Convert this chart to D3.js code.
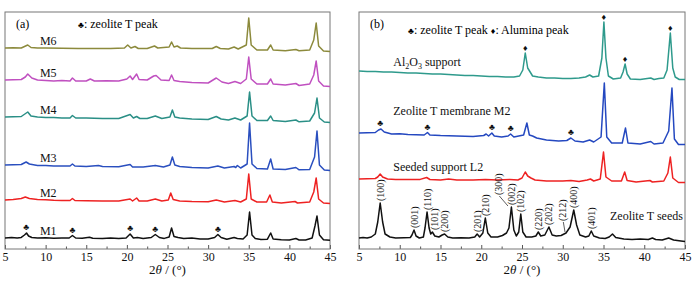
<!DOCTYPE html>
<html>
<head>
<meta charset="utf-8">
<script src="https://cdn.jsdelivr.net/npm/d3@7"></script>
<style>
  body { margin: 0; background: #fff; }
  text { font-family: "Liberation Serif", "Times New Roman", serif; }
</style>
</head>
<body>
<div id="chart"></div>
<script>
// ---- data: 2theta (deg) vs relative intensity ----
const ticks = [5, 10, 15, 20, 25, 30, 35, 40, 45];
const minorTicks = [7.5, 12.5, 17.5, 22.5, 27.5, 32.5, 37.5, 42.5];

// panel (a)
const namesA = ["M1", "M2", "M3", "M4", "M5", "M6"];
const colorsA = ["#111111", "#ee2222", "#2a4fbf", "#2a8f86", "#c050c0", "#8c8a3c"];
const offsetsA = [8, 45, 78, 126, 162, 197];

const m1 = [[5,3],[5.8,3.6],[6.5,3],[7,3.6],[7.4,6],[7.65,8],[7.9,5],[8.3,3.5],[9,3],[10,3.3],[11,2.8],[12,3.1],[12.9,3],[13.3,5.5],[13.7,3],[14.5,2.8],[15.4,3.8],[15.8,2.8],[17,2.6],[18,2.9],[19,2.5],[19.9,3],[20.4,7],[20.8,3],[21.3,3.4],[22,2.6],[23,3.5],[23.5,6.5],[24,3.5],[24.6,2.6],[25.2,4],[25.5,13],[25.8,4.5],[26.3,3.5],[27,2.4],[28,2.9],[29,2],[30,2.1],[30.8,3.5],[31.2,6.5],[31.6,3.5],[32.3,1.8],[33.2,3.5],[33.6,2.5],[34.3,2],[34.8,6],[35.1,29],[35.4,6],[35.8,2.5],[36.5,1.5],[37.3,1.8],[37.7,8],[38,2],[39,1.2],[40,1],[40.8,2.5],[41.2,1],[42,1],[42.8,3],[43.15,15],[43.4,25],[43.7,6],[44.2,1.2],[45,0.8]];
const m2 = [[5,4],[6,4.5],[7,5.5],[7.5,7],[8,5.5],[9,4.5],[10,4.2],[11,3.8],[12,3.6],[13,3.5],[13.3,5.5],[13.6,3.5],[15,3.3],[17,3.1],[19,3],[20.4,5],[20.7,3],[21.2,6],[21.5,3],[22.5,3],[23.5,5],[24.3,3],[25.1,4],[25.4,11],[25.7,4.5],[26.5,3],[28,2.5],[30,2.2],[31,4],[32,2],[33.3,3.5],[34,2],[34.7,5],[35,30],[35.3,5],[36,2],[37.2,2],[37.6,9],[37.9,2],[39,1],[40.7,2.5],[41,1],[42.5,2],[43,12],[43.3,26],[43.6,5],[44.2,1],[45,0.5]];
const m3 = [[5,6],[6,6.2],[7,6.5],[7.6,9],[8,7],[9,5.5],[10,5.6],[11,5],[12,5.1],[13,5],[13.3,7],[13.6,5],[15,4.5],[16.5,5.5],[17,4.5],[19,4.2],[20.4,6.5],[20.7,4],[22,4],[23.5,5.5],[24.5,4],[25.3,6],[25.6,14],[25.9,6],[26.5,4.5],[28,3.5],[30,3],[31.2,5],[32,3],[33.2,4.5],[33.4,3.5],[33.6,5.5],[34,3],[34.8,7],[35.1,48],[35.4,7],[36,2.5],[37.3,2],[37.7,12],[38,2],[39.5,1.5],[40.8,3.5],[41.2,1.2],[42.5,1.5],[43.1,14],[43.4,40],[43.7,6],[44.3,1],[45,0.5]];
const m4 = [[5,6],[6,6.2],[7,6.5],[7.8,11],[8.2,7],[9,6],[10,5.6],[11,5.5],[12,5.1],[13,5],[13.3,7.5],[13.7,5],[15,5],[17,4.6],[19,4.5],[20.4,8.5],[20.8,5],[21.2,6.5],[21.6,4.5],[22.5,4.5],[23.5,7],[24.3,4.5],[25.3,6],[25.6,13],[25.9,6],[26.5,5],[28,4],[30,3.5],[31,6.5],[31.6,4],[32.5,3],[33.3,5],[34,3],[34.8,7],[35.1,31],[35.4,7],[36,2.5],[37.3,2.5],[37.7,7],[38,2.5],[39.5,1.5],[40.8,3],[41.2,1.2],[42.5,2],[43.1,10],[43.4,25],[43.7,5],[44.3,1],[45,0.5]];
const m5 = [[5,7],[6,7.2],[7,7.5],[7.5,10],[7.8,13],[8.3,9],[9,7],[10,6.6],[11,6],[12,6.5],[13,6],[13.3,9],[13.7,6],[15,6],[15.5,8],[16,6],[17.5,6.2],[19,6],[20,8],[20.4,11],[20.7,7.5],[21.2,13],[21.5,7.5],[22.5,7],[23.3,11],[23.6,11.5],[24.2,7],[25.2,6.5],[25.5,12],[25.8,6.5],[26.5,5.5],[28,4.5],[30,4],[31,9],[31.7,5],[32.5,3.5],[33.3,5.5],[34,3.5],[34.7,8],[35,30],[35.3,8],[36,3],[37.3,3],[37.7,8],[38,3],[39.5,2],[40.8,3.5],[41.2,1.5],[42.5,3],[43,12],[43.3,26],[43.6,6],[44.2,1],[45,0.5]];
const m6 = [[5,4],[6,4.2],[7,4],[7.8,7],[8.2,4.5],[9,4],[10,4.1],[12,3.8],[14,3.6],[16,3.5],[18,3.6],[19.7,4],[20.1,7],[20.5,4],[21,5.5],[21.4,3.5],[22.5,3.5],[23.4,6],[23.8,4],[25.2,5],[25.5,10],[25.8,5],[26.2,6],[26.6,4],[28,3.5],[30.5,3.5],[31,5.5],[31.5,3.5],[32.5,3],[33.2,5],[33.7,3],[34.7,7],[35,34],[35.3,7],[36,2],[37.3,2],[37.7,7],[38,2],[39.5,1.2],[40.8,2.5],[41.2,1.2],[42.5,2],[43,12],[43.3,29],[43.6,6],[44.2,1],[45,0.5]];
const seriesA = [m1, m2, m3, m4, m5, m6];
const clubsA = [7.6, 13.3, 20.4, 23.5, 31.2];

// panel (b)
const namesB = ["Zeolite T seeds", "Seeded support L2", "Zeolite T membrane M2", "Al2O3 support"];
const colorsB = ["#111111", "#ee2222", "#2448c0", "#2e9a8c"];
const offsetsB = [7, 66, 104, 169];

const seeds = [[5,4],[5.5,4.6],[6,4],[6.5,5],[7,8],[7.3,20],[7.6,39],[7.9,20],[8.2,8],[8.8,5],[9.5,4],[10.5,4.2],[11.3,4.5],[11.5,7],[11.75,12],[12,6],[12.4,4],[12.9,5],[13.1,14],[13.35,30],[13.6,14],[13.8,8],[14,10],[14.3,6],[14.8,5],[15.2,7],[15.5,8],[15.9,5],[16.5,4],[17.5,4.2],[18.5,4],[19.2,5],[19.5,8],[19.8,5],[20.2,9],[20.5,24],[20.8,9],[21.2,5],[22,5],[22.6,6.5],[23.1,9],[23.4,14],[23.7,35],[24,12],[24.3,6],[24.6,10],[24.85,28],[25.1,10],[25.5,5],[26.2,5],[26.7,6],[27,10],[27.3,6],[27.8,7],[28.3,15],[28.7,7],[29.2,6],[29.8,6.5],[30.4,9],[30.9,15],[31.35,32],[31.7,17],[32.1,7],[32.8,5],[33.2,6],[33.5,11],[33.8,6],[34.5,4],[35.2,3.5],[35.7,5],[36.1,8],[36.5,4.5],[37.5,3],[38.5,2.5],[39.5,3],[40.5,2.5],[41,4],[41.4,2.5],[42.2,2],[43,4],[43.6,2],[44.5,1],[45,0.5]];
const seededL2 = [[5,4],[6,4.2],[7,4.5],[7.3,6],[7.6,9],[7.9,6],[8.5,4],[9.5,3.6],[11,3.5],[12.5,3.6],[13.3,5.5],[13.7,3.5],[15,3],[16,4],[17,3],[19,3.1],[20.5,3.5],[22,3],[23.5,3.5],[24.5,3],[25,5],[25.4,11],[25.7,7],[26.1,5],[26.6,3],[28,2],[30,2],[31,2.5],[32,1.5],[33,3],[33.4,4],[33.8,2],[34.6,4],[35,31],[35.3,6],[36,2],[37.2,2],[37.6,11],[37.9,2.5],[39,1],[40.7,2.5],[41,1],[42.4,2],[42.9,10],[43.2,26],[43.5,5],[44.2,0.5],[45,0.5]];
const membraneM2 = [[5,12],[6,12.3],[7,12.5],[7.4,15],[7.7,16],[8.1,13],[9,11],[10,11.2],[11,10.5],[12,10.2],[13,10],[13.4,12.5],[13.7,10],[15,9.5],[17,9.1],[19,8.5],[20.3,9.5],[20.6,11],[20.9,9],[21.3,12],[21.6,9],[22.5,8],[23.3,9],[23.6,11],[24,8],[25.2,10],[25.6,22],[25.9,10],[26.3,9],[26.8,7],[28,5],[29.5,4],[30.5,4.5],[31,7],[31.5,4],[32.5,3],[33.3,5],[33.8,3],[34.7,8],[35.1,62],[35.4,8],[36,2],[37.3,2],[37.7,17],[38,2],[39.5,1],[40.8,3.5],[41.2,1],[42.3,2],[43,14],[43.4,57],[43.7,6],[44.2,0.5],[45,0.5]];
const alumina = [[5,9],[6,8.6],[7,8.5],[8,8],[9,8.1],[10,7.5],[11,7],[12,7.1],[13,6.5],[14,6],[15,6.1],[16,5.5],[17,5],[18,4.6],[19,4.5],[20,4],[21,3.6],[22,3.5],[23,3],[24,3.1],[24.7,4],[25.1,10],[25.4,27],[25.7,12],[26,8],[26.3,4],[27,3],[28,2],[29,2.1],[30,1.5],[31,1.5],[32,2],[32.8,3],[33.3,5],[33.7,3],[34.4,4],[34.8,22],[35.05,58],[35.3,22],[35.6,4],[36.2,1],[37.1,2],[37.4,8],[37.65,16],[37.9,6],[38.3,1],[39.5,0.5],[40.8,2],[41.2,0.5],[41.8,1.5],[42.4,2],[42.8,10],[43.2,47],[43.5,12],[43.8,3],[44.3,0.5],[45,0.5]];
const seriesB = [seeds, seededL2, membraneM2, alumina];
const clubsB = [7.6, 13.4, 21.3, 23.6, 31.0];
const diamondsB = [25.4, 35.05, 37.65, 43.2];

const hklLabels = ["(100)", "(001)", "(110)", "(101)", "(200)", "(201)", "(210)", "(300)", "(002)", "(102)", "(220)", "(202)", "(212)", "(400)", "(401)"];
const hklPos = [7.6, 11.75, 13.35, 14.0, 15.5, 19.5, 20.5, 23.4, 23.7, 24.85, 27.0, 28.3, 30.4, 31.35, 33.5];

// ---- drawing ----
const W = 700, H = 281;
const plotTop = 12, plotBottom = 249;
const font = 12;

const svg = d3.select("#chart").append("svg")
    .attr("width", W)
    .attr("height", H);

const y = d3.scaleLinear().domain([0, 237]).range([plotBottom, plotTop]);

function peakAt(data, t) {
    return d3.max(data.filter(d => Math.abs(d[0] - t) <= 0.35), d => d[1]);
}
function valueAt(data, t) {
    const i = d3.bisector(d => d[0]).left(data, t);
    return data[Math.min(i, data.length - 1)][1];
}

function drawPanel(x0, x1, series, offsets, colors) {
    const x = d3.scaleLinear().domain([5, 45]).range([x0, x1]);

    const g = svg.append("g");

    // minor ticks
    g.append("g")
        .attr("transform", "translate(0," + plotBottom + ")")
        .call(d3.axisBottom(x).tickValues(minorTicks).tickSize(-2.5).tickFormat(""))
        .call(a => a.select(".domain").remove())
        .selectAll("line").attr("stroke", "#555");

    // major ticks + labels
    g.append("g")
        .attr("transform", "translate(0," + plotBottom + ")")
        .call(d3.axisBottom(x).tickValues(ticks).tickSize(-4).tickPadding(3))
        .call(a => a.select(".domain").remove())
        .call(a => a.selectAll("line").attr("stroke", "#555"))
        .call(a => a.selectAll("text")
            .attr("font-size", font)
            .attr("fill", "#111")
            .style("font-family", "'Liberation Serif', serif"));

    // frame
    g.append("rect")
        .attr("x", x0).attr("y", plotTop)
        .attr("width", x1 - x0).attr("height", plotBottom - plotTop)
        .attr("fill", "none")
        .attr("stroke", "#777")
        .attr("stroke-width", 1);

    // lines
    const line = d3.line()
        .x(d => x(d[0]));
    series.forEach((s, i) => {
        g.append("path")
            .datum(s)
            .attr("fill", "none")
            .attr("stroke", colors[i])
            .attr("stroke-width", 1.5)
            .attr("stroke-linejoin", "round")
            .attr("d", line.y(d => y(d[1] + offsets[i])));
    });

    // x title
    const t = g.append("text")
        .attr("x", (x0 + x1) / 2)
        .attr("y", 274)
        .attr("text-anchor", "middle")
        .attr("font-size", 13)
        .attr("fill", "#111");
    t.append("tspan").text("2");
    t.append("tspan").attr("font-style", "italic").text("θ");
    t.append("tspan").text(" / (°)");

    return { x, g };
}

// panel (a)
const pa = drawPanel(5, 330, seriesA, offsetsA, colorsA);
namesA.forEach((n, i) => {
    pa.g.append("text")
        .attr("x", pa.x(9.3))
        .attr("y", y(valueAt(seriesA[i], 9.3) + offsetsA[i]) - 3)
        .attr("font-size", font)
        .attr("fill", "#111")
        .text(n);
});
clubsA.forEach(t => {
    pa.g.append("text")
        .attr("x", pa.x(t))
        .attr("y", y(peakAt(m1, t) + offsetsA[0]) - 3)
        .attr("text-anchor", "middle")
        .attr("font-size", 9)
        .attr("fill", "#111")
        .text("♣");
});
pa.g.append("text").attr("x", 16).attr("y", 28).attr("font-size", font).text("(a)");
const lgA = pa.g.append("text").attr("x", 78).attr("y", 28).attr("font-size", font);
lgA.append("tspan").attr("font-size", 9).text("♣");
lgA.append("tspan").text(": zeolite T peak");

// panel (b)
const pb = drawPanel(359, 685, seriesB, offsetsB, colorsB);

// series labels
const lblB = [
    { x: 35.8, lift: 14, i: 0 },
    { x: 9.2, lift: 8, i: 1 },
    { x: 9.2, lift: 19, i: 2 },
    { x: 9.2, lift: 7, i: 3 }
];
lblB.forEach(l => {
    const tx = pb.g.append("text")
        .attr("x", pb.x(l.x))
        .attr("y", y(valueAt(seriesB[l.i], l.x) + offsetsB[l.i]) - l.lift)
        .attr("font-size", font)
        .attr("fill", "#111");
    const name = namesB[l.i];
    if (name.startsWith("Al2O3")) {
        tx.append("tspan").text("Al");
        tx.append("tspan").attr("font-size", 8).attr("dy", 3).text("2");
        tx.append("tspan").attr("dy", -3).text("O");
        tx.append("tspan").attr("font-size", 8).attr("dy", 3).text("3");
        tx.append("tspan").attr("dy", -3).text(" support");
    } else {
        tx.text(name);
    }
});

clubsB.forEach(t => {
    pb.g.append("text")
        .attr("x", pb.x(t))
        .attr("y", y(peakAt(membraneM2, t) + offsetsB[2]) - 3)
        .attr("text-anchor", "middle")
        .attr("font-size", 9)
        .attr("fill", "#111")
        .text("♣");
});
diamondsB.forEach(t => {
    pb.g.append("text")
        .attr("x", pb.x(t))
        .attr("y", y(peakAt(alumina, t) + offsetsB[3]) - 2)
        .attr("text-anchor", "middle")
        .attr("font-size", 9)
        .attr("fill", "#111")
        .text("♦");
});

// hkl labels for the seeds
const leader = { "(300)": -1.3, "(212)": -0.45 };
const nudge = { "(101)": 0.3 };
hklLabels.forEach((lab, i) => {
    const t = hklPos[i];
    const py = y(peakAt(seeds, t) + offsetsB[0]);
    let lx = t + (nudge[lab] || 0);
    let by = py - 2;
    if (leader[lab] !== undefined) {
        lx = t + leader[lab];
        by = py - 12;
        pb.g.append("line")
            .attr("x1", pb.x(lx) + 1).attr("y1", by + 1)
            .attr("x2", pb.x(t) - 1).attr("y2", py - 1)
            .attr("stroke", "#333")
            .attr("stroke-width", 0.8);
    }
    pb.g.append("text")
        .attr("transform", "translate(" + pb.x(lx) + "," + by + ") rotate(-90)")
        .attr("dy", "0.35em")
        .attr("font-size", 10)
        .attr("fill", "#111")
        .text(lab);
});

pb.g.append("text").attr("x", 370).attr("y", 28).attr("font-size", font).text("(b)");
const lgB = pb.g.append("text").attr("x", 408).attr("y", 34).attr("font-size", font);
lgB.append("tspan").attr("font-size", 9).text("♣");
lgB.append("tspan").text(": zeolite T peak  ");
lgB.append("tspan").attr("font-size", 9).text("♦");
lgB.append("tspan").text(": Alumina peak");
</script>
</body>
</html>
